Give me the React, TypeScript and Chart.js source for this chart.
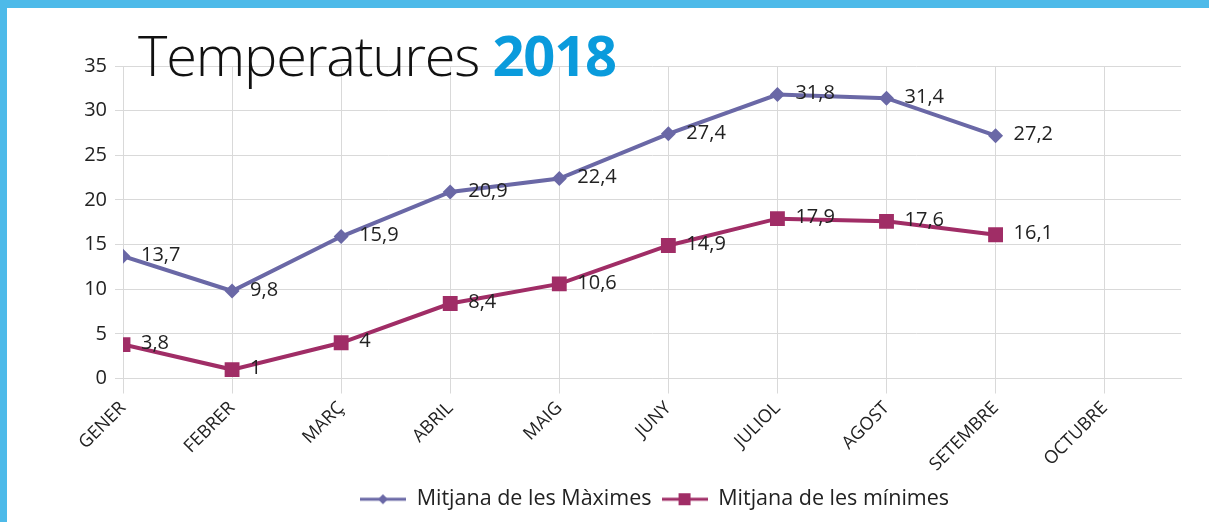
import React, { useEffect, useRef } from "react";
import { Chart, registerables } from "chart.js";

Chart.register(...registerables);

const categories = ["GENER", "FEBRER", "MARÇ", "ABRIL", "MAIG", "JUNY", "JULIOL", "AGOST", "SETEMBRE", "OCTUBRE"];
const maxTemps: (number | null)[] = [13.7, 9.8, 15.9, 20.9, 22.4, 27.4, 31.8, 31.4, 27.2, null];
const minTemps: (number | null)[] = [3.8, 1, 4, 8.4, 10.6, 14.9, 17.9, 17.6, 16.1, null];
const seriesNames = ["Mitjana de les Màximes", "Mitjana de les mínimes"];
const yTicks = [0, 5, 10, 15, 20, 25, 30, 35];

const MAX_COLOR = "#6a68a6";
const MIN_COLOR = "#a02d66";
const GRID = "#d9d9d9";
const FONT = "'Open Sans', 'Noto Sans', sans-serif";

function toPoints(values: (number | null)[]) {
  const out: { x: number; y: number }[] = [];
  values.forEach((v, i) => {
    if (v !== null) out.push({ x: i, y: v });
  });
  return out;
}

function legendMarker(color: string, kind: "diamond" | "square") {
  const c = document.createElement("canvas");
  c.width = 46;
  c.height = 18;
  const ctx = c.getContext("2d")!;
  ctx.strokeStyle = color;
  ctx.lineWidth = 3;
  ctx.beginPath();
  ctx.moveTo(0, 9);
  ctx.lineTo(46, 9);
  ctx.stroke();
  ctx.fillStyle = color;
  if (kind === "diamond") {
    ctx.beginPath();
    ctx.moveTo(23, 4);
    ctx.lineTo(28, 9);
    ctx.lineTo(23, 14);
    ctx.lineTo(18, 9);
    ctx.closePath();
    ctx.fill();
  } else {
    ctx.fillRect(17, 3, 12, 12);
  }
  return c;
}

const dataLabelPlugin = {
  id: "dataLabels",
  afterLayout(chart: any) {
    if (chart.legend) {
      chart.legend.left += 64;
      chart.legend.right += 64;
    }
  },
  afterDatasetsDraw(chart: any) {
    const ctx = chart.ctx;
    ctx.save();
    ctx.font = `20px ${FONT}`;
    ctx.fillStyle = "#222";
    ctx.textBaseline = "middle";
    ctx.textAlign = "left";
    chart.data.datasets.forEach((ds: any, di: number) => {
      const meta = chart.getDatasetMeta(di);
      meta.data.forEach((pt: any, i: number) => {
        const v = ds.data[i].y;
        ctx.fillText(String(v).replace(".", ","), pt.x + 18, pt.y - 1);
      });
    });
    ctx.restore();
  },
};

export default function App() {
  const ref = useRef<HTMLCanvasElement>(null);

  useEffect(() => {
    if (!ref.current) return;
    const markers = [legendMarker(MAX_COLOR, "diamond"), legendMarker(MIN_COLOR, "square")];
    const chart = new Chart(ref.current, {
      type: "line",
      data: {
        datasets: [
          {
            label: seriesNames[0],
            data: toPoints(maxTemps),
            borderColor: MAX_COLOR,
            backgroundColor: MAX_COLOR,
            borderWidth: 4,
            pointStyle: "rectRot",
            pointRadius: 7.5,
            pointBorderWidth: 0,
            tension: 0,
          },
          {
            label: seriesNames[1],
            data: toPoints(minTemps),
            borderColor: MIN_COLOR,
            backgroundColor: MIN_COLOR,
            borderWidth: 4,
            pointStyle: "rect",
            pointRadius: 10.5,
            pointBorderWidth: 0,
            tension: 0,
          },
        ],
      },
      options: {
        responsive: false,
        animation: false,
        layout: { padding: { top: 66, right: 28, bottom: 2, left: 0 } },
        plugins: {
          tooltip: { enabled: false },
          title: { display: false },
          legend: {
            position: "bottom",
            labels: {
              usePointStyle: true,
              pointStyleWidth: 46,
              padding: 10,
              color: "#222",
              font: { size: 21.5, family: FONT },
              generateLabels: (ch: any) =>
                ch.data.datasets.map((ds: any, i: number) => ({
                  text: ds.label,
                  fillStyle: ds.borderColor,
                  strokeStyle: ds.borderColor,
                  lineWidth: 0,
                  pointStyle: markers[i],
                  hidden: false,
                  datasetIndex: i,
                  fontColor: "#222",
                })),
            },
          },
        },
        scales: {
          x: {
            type: "linear",
            min: 0,
            max: 9.7,
            afterFit: (s: any) => {
              s.height = 100;
            },
            afterBuildTicks: (s: any) => {
              s.ticks = categories.map((_, i) => ({ value: i }));
            },
            ticks: {
              autoSkip: false,
              minRotation: 45,
              maxRotation: 45,
              padding: 4,
              color: "#222",
              font: { size: 18, family: FONT },
              callback: (v: any) => categories[Math.round(Number(v))] ?? "",
            },
            grid: { color: GRID, lineWidth: 1, tickLength: 15 },
            border: { color: GRID, width: 1 },
          },
          y: {
            min: 0,
            max: 35,
            afterFit: (s: any) => {
              s.width = 123;
            },
            afterBuildTicks: (s: any) => {
              s.ticks = yTicks.map((v) => ({ value: v }));
            },
            ticks: {
              padding: 8,
              color: "#222",
              font: { size: 20, family: FONT },
            },
            grid: { color: GRID, lineWidth: 1, tickLength: 8 },
            border: { color: GRID, width: 1 },
          },
        },
      },
      plugins: [dataLabelPlugin],
    } as any);
    return () => chart.destroy();
  }, []);

  return (
    <div
      style={{
        position: "fixed",
        left: 0,
        top: 0,
        width: 1209,
        height: 522,
        background: "#fff",
        overflow: "hidden",
      }}
    >
      <canvas ref={ref} width={1209} height={522} style={{ position: "absolute", left: 0, top: 0, width: 1209, height: 522 }} />
      <div
        style={{
          position: "absolute",
          left: 138,
          top: 26,
          fontFamily: FONT,
          fontSize: 56,
          lineHeight: 1,
          whiteSpace: "nowrap",
          letterSpacing: -1.2,
        }}
      >
        <span style={{ fontWeight: 300, color: "#111" }}>Temperatures </span>
        <span style={{ fontWeight: 700, color: "#0a9bdc" }}>2018</span>
      </div>
      <div style={{ position: "absolute", left: 0, top: 0, width: 1209, height: 8, background: "#4dbae9" }} />
      <div style={{ position: "absolute", left: 0, top: 0, width: 7, height: 522, background: "#4dbae9" }} />
    </div>
  );
}
